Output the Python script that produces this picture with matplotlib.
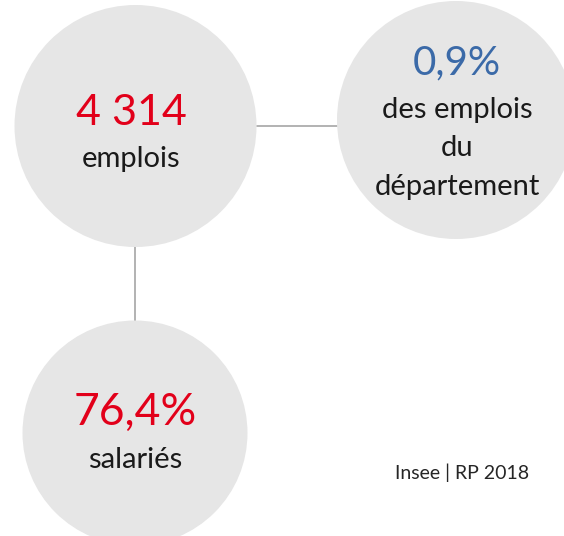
import matplotlib
matplotlib.use("Agg")
import matplotlib.pyplot as plt
from matplotlib.patches import Circle

# Data
values = ["4 314", "0,9%", "76,4%"]
labels = ["emplois", "des emplois\ndu\ndépartement", "salariés"]
value_colors = ["#e2001a", "#3b6aa8", "#e2001a"]
source = "Insee | RP 2018"

# Layout (pixel coords, y downward)
centers = [(135.5, 126), (456, 120), (135, 433)]
text_x = [131, 457, 135]
radii = [121, 119, 112.5]
value_baselines = [125, 74, 425]
label_baselines = [167, 118, 468]
value_sizes = [31, 29, 32]

W, H = 564, 536
fig = plt.figure(figsize=(W / 100, H / 100), dpi=100)
ax = fig.add_axes([0, 0, 1, 1])
ax.set_xlim(0, W)
ax.set_ylim(H, 0)
ax.set_aspect("equal")
ax.axis("off")

fam = ["Lato", "DejaVu Sans"]

# connectors
ax.plot([257, 337], [126, 126], color="#a6a6a6", lw=1.2, zorder=1)
ax.plot([135, 135], [246, 321], color="#a6a6a6", lw=1.2, zorder=1)

for (cx, cy), tx, r, v, lab, col, vb, lb, vs in zip(centers, text_x, radii, values, labels, value_colors,
                                                    value_baselines, label_baselines, value_sizes):
    ax.add_patch(Circle((cx, cy), r, facecolor="#e6e6e6", edgecolor="none", zorder=2))
    ax.text(tx, vb, v, color=col, fontsize=vs, family=fam,
            ha="center", va="baseline", zorder=3)
    for i, line in enumerate(lab.split("\n")):
        ax.text(tx, lb + i * 38.5, line, color="#1a1a1a", fontsize=21, family=fam,
                ha="center", va="baseline", zorder=3)

ax.text(529, 479, source, color="#262626", fontsize=14, family=fam,
        ha="right", va="baseline")

fig.savefig("out.png", dpi=100)
